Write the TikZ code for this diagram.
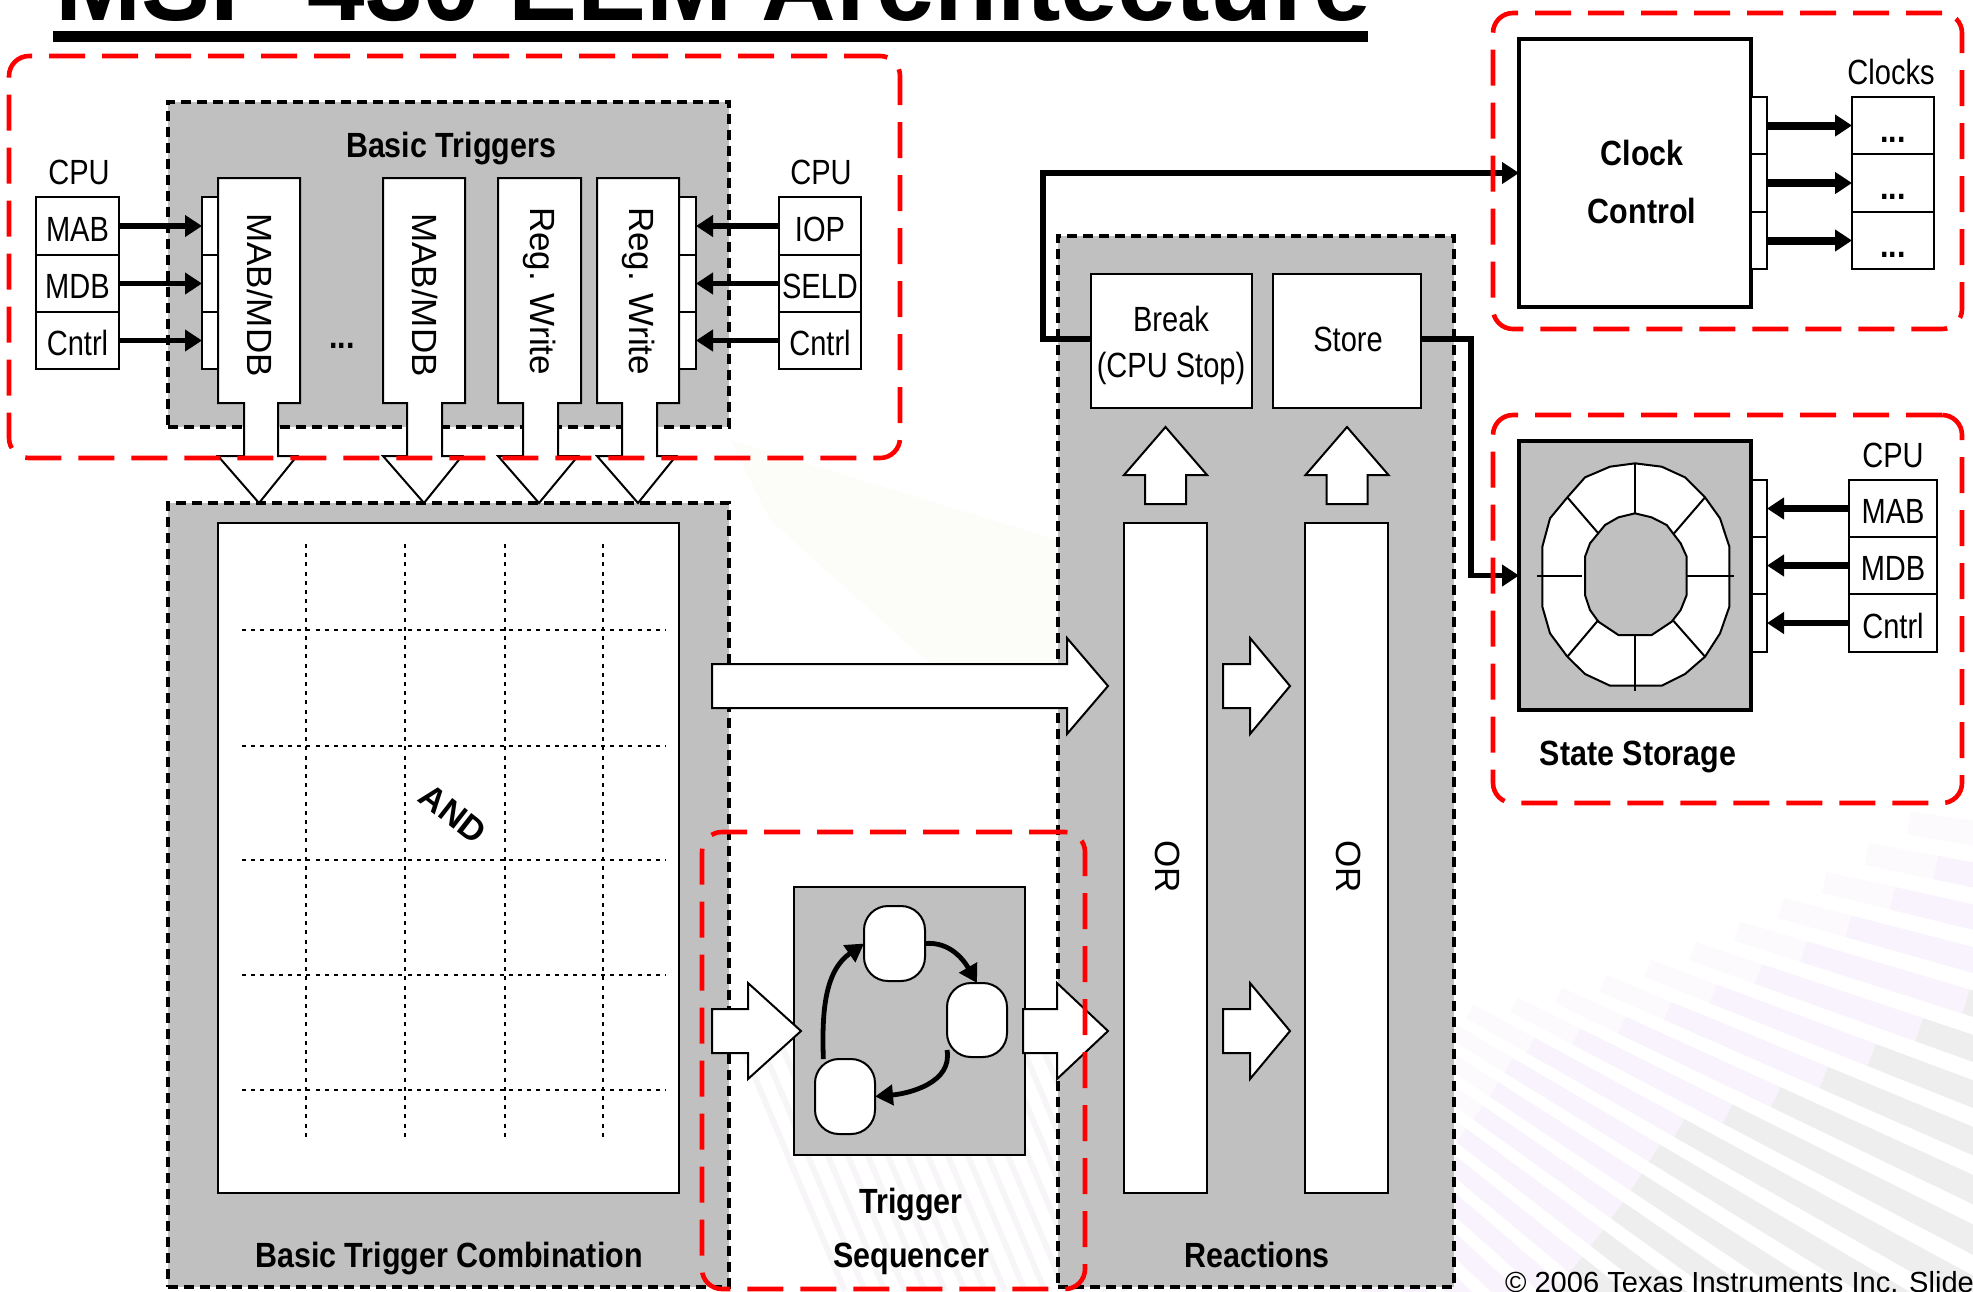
\documentclass[tikz,border=0pt]{standalone}
\usepackage{fontspec}
\setmainfont[FakeStretch=0.83,BoldFeatures={FakeStretch=0.87}]{Liberation Sans}
\newfontfamily\plainsf{Liberation Sans}
\usepackage{tikz}
\usetikzlibrary{arrows.meta,calc}

\definecolor{panelgray}{HTML}{C0C0C0}
\definecolor{framered}{HTML}{FF0000}
\definecolor{stripegray}{HTML}{EEEEEE}
\definecolor{stripelilac}{HTML}{F8F3FC}
\definecolor{stripepale}{HTML}{FCFAFD}
\definecolor{palegreen}{HTML}{FCFDF9}
\definecolor{stripeseq}{HTML}{F8F5F9}

\tikzset{
  spans/.style n args={4}{minimum width={(#3-#1)*0.5pt},minimum height={(#4-#2)*0.5pt},
    at={({(#1+#3)/2},{(#2+#4)/2})}},
  every node/.style={inner sep=0pt,outer sep=0pt},
  lbl/.style={font=\fontsize{17.5}{21}\selectfont},
  lblbold/.style={font=\bfseries\fontsize{17.5}{21}\selectfont,align=center},
  sidetext/.style={font=\plainsf\fontsize{17.5}{21}\selectfont,rotate=-90},
  cell/.style={lbl,draw,fill=white,line width=1pt,text height=15pt,text depth=0pt},
  panel/.style={draw,fill=panelgray,line width=2pt,dash pattern=on 5pt off 3pt},
  heavybox/.style={draw,line width=2pt},
  redframe/.style={draw=framered,line width=2.3pt,rounded corners=10pt,dash pattern=on 18pt off 8.5pt},
  wire/.style={line width=2.8pt,-{Triangle[length=8.5pt,width=10.5pt]}},
  flow/.style={draw,fill=white,line width=1pt},
  gridline/.style={line width=1pt,dash pattern=on 2pt off 2.6pt},
  statebox/.style={draw,fill=white,line width=1pt,rounded corners=12pt},
  seqwire/.style={line width=2.4pt,-{Triangle[length=9pt,width=10pt]}}
}

\begin{document}
\begin{tikzpicture}[x=0.5pt,y=-0.5pt]
  \path[use as bounding box,clip] (0,0) rectangle (1973,1291);

  % faint background
  \coordinate (fan) at (817,648);
  \foreach \a in {8.5,10.5,...,50} {
    \pgfmathsetmacro{\rs}{\a<29 ? 1097-(\a-9)*17.95 : 738}
    \pgfmathsetmacro{\e}{\a+1.2}
    \fill[stripepale] ($(fan)+(\a:\rs)$) -- ($(fan)+(\e:\rs)$) -- ($(fan)+(\e:\rs+70)$) -- ($(fan)+(\a:\rs+70)$) -- cycle;
    \fill[stripelilac] ($(fan)+(\a:\rs+70)$) -- ($(fan)+(\e:\rs+70)$) -- ($(fan)+(\e:\rs+240)$) -- ($(fan)+(\a:\rs+240)$) -- cycle;
    \fill[stripegray] ($(fan)+(\a:\rs+240)$) -- ($(fan)+(\e:\rs+240)$) -- ($(fan)+(\e:1500)$) -- ($(fan)+(\a:1500)$) -- cycle;
  }
  \fill[palegreen] (730,440) -- (1058,540) -- (1058,664) -- (930,664) -- (770,520) -- cycle;
  \foreach \x in {735,755,...,1035} \draw[stripeseq,line width=3pt] (\x,1030) -- (\x+110,1291);

  % title
  \node[anchor=base west,font=\plainsf\bfseries\fontsize{51.7}{60}\selectfont] (title) at (55,20) {MSP 430 EEM Architecture};
  \fill (53,31) rectangle (1368,42);

  % grey panels
  \node[panel,spans={168}{102}{729}{427}] (trig) {};
  \node[panel,spans={168}{503}{729}{1287}] (comb) {};
  \node[panel,spans={1058}{236}{1454}{1287}] (react) {};
  \node[lblbold] (trigname) at (451,149) {Basic Triggers};
  \node[lblbold] (combname) at (449,1259) {Basic Trigger Combination};
  \node[lblbold] (reactname) at (1257,1255) {Reactions};

  % basic triggers, cpu side
  \node[lbl] (cpul) at (79,172) {CPU};
  \node[lbl] (cpur) at (821,172) {CPU};
  \foreach \i/\p/\q/\u/\v in {1/197/255/MAB/IOP,2/255/312/MDB/SELD,3/312/369/Cntrl/Cntrl} {
    \node[cell,spans={36}{\p}{119}{\q}] (busl\i) {\u};
    \node[cell,spans={779}{\p}{861}{\q}] (busr\i) {\v};
    \node[cell,spans={202}{\p}{218}{\q}] (stubl\i) {};
    \node[cell,spans={679}{\p}{696}{\q}] (stubr\i) {};
    \draw[wire] (busl\i) -- (stubl\i);
    \draw[wire] (busr\i) -- (stubr\i);
  }

  % trigger blocks
  \foreach \i/\p/\q/\l/\r/\t/\m/\w in {1/218/300/244/278/259/295/MAB\slash MDB,2/383/465/407/442/424/295/MAB\slash MDB,3/498/581/523/558/539/291/Reg. Write,4/597/679/622/657/638/291/Reg. Write} {
    \draw[flow] (\p,178) -- (\q,178) -- (\q,403) -- (\r,403) -- (\r,456) -- (\q-3,456) -- (\t,503) -- (\p,456) -- (\l,456) -- (\l,403) -- (\p,403) -- cycle;
    \node[sidetext] (blk\i) at ({\t+1},\m) {\w};
  }
  \node[lbl,font=\bfseries\fontsize{17.5}{21}\selectfont] (blkdots) at (342,346) {...};

  % AND matrix
  \node[flow,spans={218}{523}{679}{1193}] (matrix) {};
  \foreach \x in {306,405,505,603} \draw[gridline] (\x,544) -- (\x,1141);
  \foreach \y in {630,746,860,975,1090} \draw[gridline] (242,\y) -- (666,\y);
  \node[font=\plainsf\bfseries\fontsize{17}{21}\selectfont,rotate=-38] (andname) at (453,814) {AND};

  % reactions
  \node[cell,spans={1091}{274}{1252}{408}] (brk) {};
  \node[cell,spans={1273}{274}{1421}{408}] (sto) {};
  \node[lbl,align=center] (brkname) at (1171,345) {Break\\[2pt](CPU Stop)};
  \node[lbl] (stoname) at (1348,339) {Store};
  \node[flow,spans={1124}{523}{1207}{1193}] (orbrk) {};
  \node[flow,spans={1305}{523}{1388}{1193}] (orsto) {};
  \node[sidetext] (ora) at (1168,867) {OR};
  \node[sidetext] (orb) at (1349,867) {OR};
  \foreach \c in {1165.5,1347}
    \draw[flow] ({\c-20.5},504) -- ({\c-20.5},475) -- ({\c-41.5},475) -- (\c,427) -- ({\c+41.5},475) -- ({\c+20.5},475) -- ({\c+20.5},504) -- cycle;

  % sequencer
  \node[flow,fill=panelgray,spans={794}{887}{1025}{1155}] (seq) {};
  \node[statebox,spans={864}{906}{925}{981}] (st1) {};
  \node[statebox,spans={947}{983}{1007}{1057}] (st2) {};
  \node[statebox,spans={815}{1059}{875}{1134}] (st3) {};
  \draw[seqwire] (st1.east) to[out=5,in=120] (st2.north);
  \draw[seqwire] (st2.225) to[out=-80,in=5] (st3.east);
  \draw[seqwire] (st3.120) to[out=92,in=215] (st1.west);
  \node[lblbold] (seqname) at (911,1231) {Trigger\\[6pt]Sequencer};

  % block arrows
  \foreach \a/\b/\c/\m in {712/1067/1108/686,712/748/801/1031,1023/1057/1108/1031,1223/1250/1290/686,1223/1250/1290/1031}
    \draw[flow] (\a,{\m-22}) -- (\b,{\m-22}) -- (\b,{\m-48}) -- (\c,\m) -- (\b,{\m+48}) -- (\b,{\m+22}) -- (\a,{\m+22}) -- cycle;

  % clock control
  \node[heavybox,fill=white,spans={1519}{39}{1751}{307}] (clk) {};
  \node[lblbold] (clkname) at (1642,182) {Clock\\[8pt]Control};
  \node[lbl] (clocks) at (1891,72) {Clocks};
  \foreach \i/\p/\q in {1/97/154,2/154/212,3/212/269} {
    \node[cell,spans={1751}{\p}{1767}{\q}] (clkstub\i) {};
    \node[cell,spans={1852}{\p}{1934}{\q},text height=16.5pt,font=\bfseries\fontsize{17.5}{21}\selectfont] (clkout\i) {...};
    \draw[wire,line width=4pt] (clkstub\i) -- (clkout\i);
  }

  % state storage
  \node[heavybox,fill=panelgray,spans={1519}{441}{1751}{710}] (mem) {};
  \node[lbl] (cpus) at (1893,455) {CPU};
  \foreach \i/\p/\q/\u in {1/480/537/MAB,2/537/594/MDB,3/594/652/Cntrl} {
    \node[cell,spans={1752}{\p}{1767}{\q}] (memstub\i) {};
    \node[cell,spans={1849}{\p}{1937}{\q}] (bus\i) {\u};
    \draw[wire,line width=3.2pt] (bus\i) -- (memstub\i);
  }
  \begin{scope}[shift={(1450,400)},x=0.16667pt,y=-0.16667pt,line width=1pt]
    \draw[fill=white] (555,190) -- (635,200) -- (705,232) -- (765,292) -- (810,355) -- (838,440) -- (838,620) -- (810,700) -- (765,770) -- (705,822) -- (635,857) -- (480,857) -- (405,822) -- (352,770) -- (300,700) -- (277,620) -- (277,440) -- (300,355) -- (352,292) -- (405,232) -- (480,200) -- cycle;
    \draw[fill=panelgray] (555,340) -- (605,352) -- (650,375) -- (692,430) -- (710,470) -- (710,585) -- (692,630) -- (665,665) -- (605,705) -- (505,705) -- (445,665) -- (420,630) -- (405,585) -- (405,470) -- (420,430) -- (465,375) -- (505,352) -- cycle;
    \foreach \p/\q/\r/\s in {555/190/555/340,352/292/445/400,765/292/672/400,262/527/395/527,712/527/853/527,352/770/445/660,765/770/668/660,555/705/555/873}
      \draw (\p,\q) -- (\r,\s);
  \end{scope}
  \node[lblbold] (memname) at (1638,757) {State Storage};

  % wires to clock and storage
  \coordinate (brkbend) at (1043,339);
  \coordinate (stobend) at (1471,339);
  \draw[wire] (brkbend -| brk.west) -- (brkbend) |- (clk.west);
  \draw[wire] (stobend -| sto.east) -- (stobend) |- (mem.west);

  % footer
  \node[anchor=base west,font=\plainsf\fontsize{14.55}{17}\selectfont] (foot) at (1505,1292) {© 2006 Texas Instruments Inc. Slide};

  % red frames
  \node[redframe,spans={9}{56}{900}{458}] (framea) {};
  \node[redframe,spans={1493}{13}{1962}{329}] (frameb) {};
  \node[redframe,spans={1493}{415}{1962}{803}] (framec) {};
  \node[redframe,spans={702}{832}{1085}{1289}] (framed) {};
\end{tikzpicture}
\end{document}
